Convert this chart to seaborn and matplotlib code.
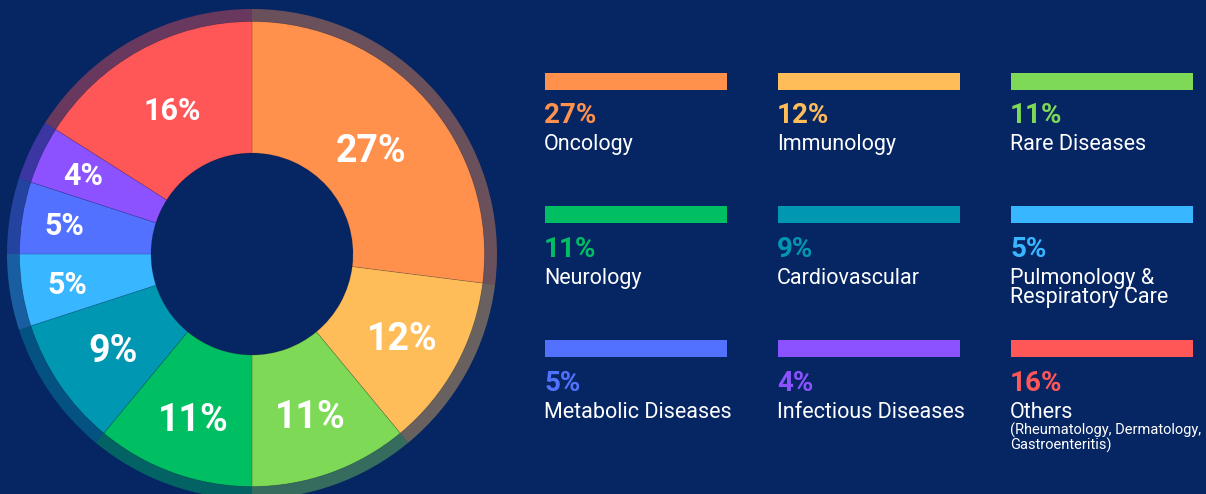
import matplotlib
matplotlib.use("Agg")
import numpy as np
import matplotlib.pyplot as plt
import seaborn as sns

# ---- data ----
categories = ["Oncology", "Immunology", "Rare Diseases",
              "Neurology", "Cardiovascular", "Pulmonology &\nRespiratory Care",
              "Metabolic Diseases", "Infectious Diseases", "Others"]
shares = [27, 12, 11, 11, 9, 5, 5, 4, 16]
palette_hex = ["#FF914D", "#FFBD59", "#7ED957", "#00BF63", "#0097B2",
               "#38B6FF", "#5271FF", "#8C52FF", "#FF5757"]
others_note = ["(Rheumatology, Dermatology,", "Gastroenteritis)"]

# ---- style ----
sns.set_theme(style="white")
plt.rcParams["font.family"] = ["Roboto", "DejaVu Sans"]

W, H = 1206, 494
BG = "#062563"
fig = plt.figure(figsize=(W / 100, H / 100), dpi=100, facecolor=BG)
ax = fig.add_axes([0, 0, 1, 1])
ax.set_facecolor(BG)

colors = sns.color_palette(palette_hex)

# donut geometry (pixel units, y up)
cx, cy = 252, H - 254
r_out, r_in, ring_out = 232.5, 101, 245

ring_colors = [(*c, 0.4) for c in colors]
ax.pie(shares, radius=ring_out, center=(cx, cy), startangle=90,
       counterclock=False, colors=ring_colors,
       wedgeprops=dict(width=ring_out - r_out, linewidth=0))
wedges, _ = ax.pie(shares, radius=r_out, center=(cx, cy), startangle=90,
                   counterclock=False, colors=colors,
                   wedgeprops=dict(width=r_out - r_in,
                                   edgecolor=(0, 0, 0, 0.15), linewidth=0.6))

# labels inside the donut (style: font size and distance from centre)
label_sizes = [27, 27, 27, 27, 27, 22, 22, 22, 22]
label_radii = [159, 172, 171, 174, 168, 187, 190, 187, 165]
for w, v, fs, rr in zip(wedges, shares, label_sizes, label_radii):
    mid = np.deg2rad((w.theta1 + w.theta2) / 2)
    x = cx + rr * np.cos(mid)
    y = cy + rr * np.sin(mid)
    cap = 0.711 * fs * 100 / 72
    ax.text(x, y - cap / 2, f"{v}%", color="white", fontsize=fs,
            fontweight="bold", ha="center", va="baseline")

# legend grid
leg_x0, col_step, bar_w, bar_h = 545, 233, 182, 17
row_top0, row_step = 72.7, 133.7
for i, (name, v, col) in enumerate(zip(categories, shares, colors)):
    r, c = divmod(i, 3)
    x = leg_x0 + c * col_step
    top = row_top0 + r * row_step
    ax.bar(x, bar_h, width=bar_w, bottom=H - top - bar_h, align="edge",
           color=col, linewidth=0)
    ax.text(x - 1, H - (top + 50.6), f"{v}%", color=col, fontsize=20,
            fontweight="bold", ha="left", va="baseline")
    for k, line in enumerate(name.split("\n")):
        ax.text(x - 1, H - (top + 77.5 + k * 19.5), line, color="white",
                fontsize=15.5, ha="left", va="baseline")
    if name == "Others":
        for k, line in enumerate(others_note):
            ax.text(x - 1, H - (top + 94 + k * 15.5), line, color="white",
                    fontsize=10.5, ha="left", va="baseline")

ax.set_xlim(0, W)
ax.set_ylim(0, H)
ax.set_aspect("auto")
ax.axis("off")

fig.savefig("out.png", dpi=100, facecolor=BG)
